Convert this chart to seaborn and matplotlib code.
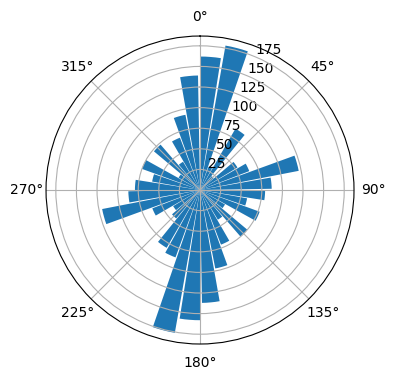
import numpy as np
import matplotlib
matplotlib.use("Agg")
import matplotlib.pyplot as plt
import seaborn as sns

# bin start angles (degrees, clockwise from north) and counts per bin
bin_starts = list(range(0, 360, 10))
counts = [162, 178, 30, 86, 22, 53, 64, 122, 87,
          79, 58, 77, 35, 75, 42, 71, 97, 137,
          158, 176, 87, 81, 45, 38, 62, 121, 87,
          79, 59, 75, 30, 73, 40, 68, 93, 139]

bar_color = sns.color_palette("tab10")[0]

fig = plt.figure(figsize=(3.96, 3.8), dpi=100)
ax = fig.add_axes([0.1162, 0.0947, 0.7778, 0.8105], projection="polar")
ax.set_theta_zero_location("N")
ax.set_theta_direction(-1)

theta = np.deg2rad(bin_starts)
ax.bar(theta, counts, width=np.deg2rad(10) * 0.9, align="edge",
       color=bar_color)

ax.set_rticks([25, 50, 75, 100, 125, 150, 175])

fig.savefig("out.png", dpi=100)
